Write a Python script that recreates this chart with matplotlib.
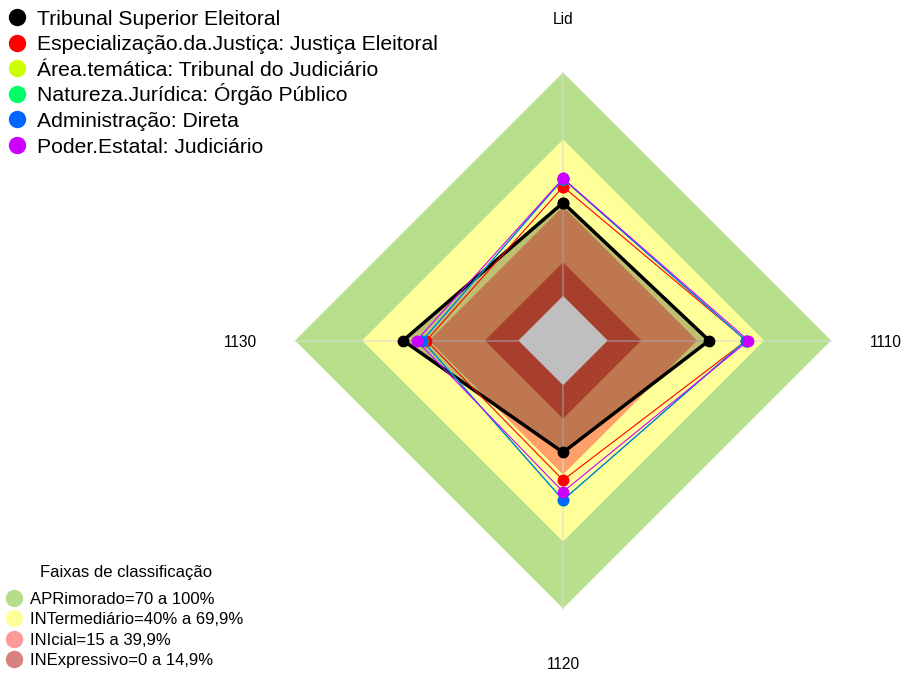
import numpy as np
import matplotlib
matplotlib.use("Agg")
import matplotlib.pyplot as plt
from matplotlib.lines import Line2D

plt.rcParams["font.family"] = ["Liberation Sans", "DejaVu Sans"]

# axes of the radar, clockwise from the top
categories = ["Lid", "1110", "1120", "1130"]

# series values (%)
series_names = [
    "Tribunal Superior Eleitoral",
    "Especialização.da.Justiça: Justiça Eleitoral",
    "Área.temática: Tribunal do Judiciário",
    "Natureza.Jurídica: Órgão Público",
    "Administração: Direta",
    "Poder.Estatal: Judiciário",
]
tse = [41.7, 45.4, 30.1, 51.6]
justica_eleitoral = [48.9, 62.0, 42.5, 41.2]
area_tematica = [52.4, 61.8, 51.4, 43.0]
natureza_juridica = [52.4, 61.8, 51.4, 43.0]
administracao = [52.4, 61.8, 51.4, 43.0]
poder_estatal = [52.6, 63.0, 47.7, 45.6]
series_values = [tse, justica_eleitoral, area_tematica, natureza_juridica,
                 administracao, poder_estatal]
series_colors = ["#000000", "#FF0000", "#CCFF00", "#00FF66", "#0066FF", "#CC00FF"]

# classification bands (upper limit of each band, %)
band_limits = [100, 70, 40, 15, 0]
band_fills = ["#b8e08c", "#ffff99", "#ffa06b", "#e0553c", "#ffffff"]
band_labels = ["APRimorado=70 a 100%", "INTermediário=40% a 69,9%",
               "INIcial=15 a 39,9%", "INExpressivo=0 a 14,9%"]
band_legend_colors = ["#b5de8a", "#ffff99", "#ff9999", "#d98080"]

W, H = 907, 673
theta = np.linspace(0, 2 * np.pi, len(categories), endpoint=False)
theta_closed = np.append(theta, theta[0])


def closed(vals):
    return np.append(vals, vals[0])


def fx(px):
    return px / W


def fy(py):
    return 1 - py / H


fig = plt.figure(figsize=(W / 100, H / 100), dpi=100)
ax = fig.add_axes([0.3253, 0.0958, 0.591, 0.7964], projection="polar")
ax.set_theta_zero_location("N")
ax.set_theta_direction(-1)
ax.set_ylim(0, 100)
ax.set_rorigin(-20)
ax.axis("off")

# background bands
for lim, col in zip(band_limits, band_fills):
    ax.fill(theta_closed, closed([lim] * len(categories)), color=col,
            lw=0, clip_on=False, zorder=1)

# axis spokes
for t in theta:
    ax.plot([t, t], [0, 100], color="#d9d9d9", alpha=0.7, lw=1.1,
            clip_on=False, zorder=2)

# TSE polygon shading
ax.fill(theta_closed, closed(tse), color="black", alpha=0.25, lw=0,
        clip_on=False, zorder=3)

# series
for i, (vals, col) in enumerate(zip(series_values, series_colors)):
    lw = 2.5 if i == 0 else 0.8
    ax.plot(theta_closed, closed(vals), color=col, lw=lw, marker="o",
            markersize=7.5, clip_on=False, zorder=4 + i)

# category labels
for t, lab in zip(theta, categories):
    ax.text(t, 124.5, lab, ha="center", va="center_baseline", fontsize=11.2,
            clip_on=False)

# series legend (top left)
for i, (name, col) in enumerate(zip(series_names, series_colors)):
    yc = 17 + 25.6 * i
    fig.add_artist(Line2D([fx(16.5)], [fy(yc)], transform=fig.transFigure,
                          ls="none", marker="o", color=col, markersize=11.5))
    fig.text(fx(37), fy(yc + 7.6), name, ha="left", va="baseline",
             fontsize=15.2)

# bands legend (bottom left)
fig.text(fx(40), fy(577), "Faixas de classificação", ha="left",
         va="baseline", fontsize=12)
for i, (lab, col) in enumerate(zip(band_labels, band_legend_colors)):
    yc = 597.5 + 20.6 * i
    fig.add_artist(Line2D([fx(14)], [fy(yc)], transform=fig.transFigure,
                          ls="none", marker="o", color=col, markersize=11.5))
    fig.text(fx(29.5), fy(yc + 6), lab, ha="left", va="baseline",
             fontsize=12)

fig.savefig("out.png", dpi=100)
